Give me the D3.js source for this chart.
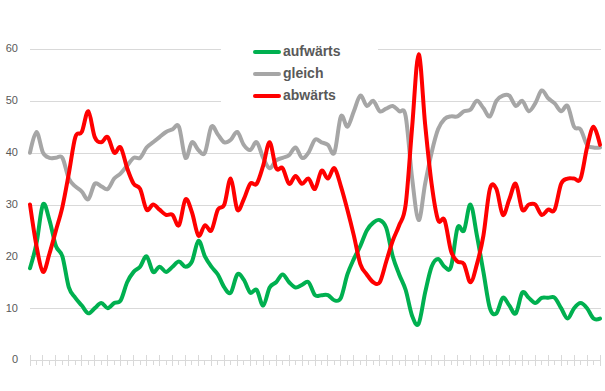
<!DOCTYPE html>
<html><head><meta charset="utf-8">
<script src="https://cdn.jsdelivr.net/npm/d3@7"></script>
<style>body{margin:0;background:#fff}svg{display:block}</style>
</head><body><svg id="c" width="605" height="391"></svg>
<script>
// 89 periods (category axis without labels)
const periods = d3.range(1, 90);
const aufwaerts = [
17.7,22.5,30,27,22,20,14,12,10.5,9,
10,11,10,11,11.5,15,17,18,20,17,
18,17,18,19,18,19,23,20,18,16.5,
14,13,16.5,15.5,13,13.5,10.5,14,15,16.5,
15,14,14.5,15,12.5,12.5,12.5,11.5,12,16.5,
19.5,22,25,26.5,27,25.5,20,16.5,13.5,8.5,
7,13,18,19.5,18,18,25.5,25,30,24,
17,10,9,12,10.5,9,13,12,11,12,
12,12,10,8,10,11,10,8,8];
const gleich = [
40,44,40,39,39,39,35,33.5,32.5,31,
34,33.5,33,35,36,37.5,39,39,41,42,
43,44,44.5,45,39,42,40.5,40,45,43.5,
42,42.5,44,41.5,40.5,42,39,37,38.5,39,
39.5,41,39,40,42.5,42,41.5,40,47,45,
48,51,49,50,48,48.5,49,48,47,35,
27,34,40,44.5,46.5,47,47,48,48.3,50,
48.6,47,50,51,51,49,50,48,49.5,52,
50.5,49.5,48,49,45,44.5,41.5,41,41];
const abwaerts = [
30,22,17,20.5,25,29.5,36,43,44,48,
43,42,43,40,41,37,34,33,29,30,
29,28,28,26,31,28.5,24,26,25,29,
30,35,29,31,34,34,37.5,42,37,37,
34,35.5,34,35,33,36.5,35,37,33.5,29,
24,18.5,16.5,15,15,19,23,26,30,45,
59,45.5,34,27,27,21,19,18.5,15,18.5,
24,33,33,28,31,34,29,30,30,28,
29,29,34,35,35,35,41,45,41.5];
const yTicks = [0,10,20,30,40,50,60];
const seriesNames = ["aufwärts","gleich","abwärts"];
const seriesColors = ["#00B050","#A6A6A6","#FF0000"];
const seriesValues = [aufwaerts, gleich, abwaerts];

const svg = d3.select("#c");
const x = d3.scalePoint().domain(periods).range([30, 600]);
const y = d3.scaleLinear().domain([0, 60]).range([360, 49]);
const crisp = v => Math.round(v) + 0.5;

// gridlines
svg.append("g").selectAll("line").data(yTicks.filter(d => d > 0)).join("line")
  .attr("x1", 30).attr("x2", 601)
  .attr("y1", d => crisp(y(d))).attr("y2", d => crisp(y(d)))
  .attr("stroke", "#d9d9d9").attr("stroke-width", 1);

// y labels
svg.append("g").selectAll("text").data(yTicks).join("text")
  .attr("x", 18).attr("y", d => y(d) + 0.5)
  .attr("text-anchor", "end").attr("dominant-baseline", "middle")
  .attr("font-family", "Liberation Sans, Arial, sans-serif").attr("font-size", 11)
  .attr("fill", "#595959").text(d => d);

// x axis line + ticks
svg.append("line").attr("x1", 30).attr("x2", 601)
  .attr("y1", crisp(y(0))).attr("y2", crisp(y(0)))
  .attr("stroke", "#d9d9d9").attr("stroke-width", 1);
const tg = svg.append("g");
tg.selectAll("line.major").data(periods.filter((d, i) => i % 2 === 0)).join("line")
  .attr("class", "major")
  .attr("x1", d => crisp(x(d) - 0.5)).attr("x2", d => crisp(x(d) - 0.5))
  .attr("y1", 355).attr("y2", 366)
  .attr("stroke", "#d9d9d9").attr("stroke-width", 1);
tg.selectAll("line.minor").data(periods.filter((d, i) => i % 2 === 1)).join("line")
  .attr("class", "minor")
  .attr("x1", d => crisp(x(d) - 0.5)).attr("x2", d => crisp(x(d) - 0.5))
  .attr("y1", 360).attr("y2", 365)
  .attr("stroke", "#d9d9d9").attr("stroke-width", 1);

// legend background (hides gridlines)
svg.append("rect").attr("x", 221).attr("y", 40).attr("width", 157).attr("height", 66).attr("fill", "#fff");

// lines
const line = d3.line().x((d, i) => x(periods[i])).y(d => y(d))
  .curve(d3.curveCardinal.tension(0));
seriesValues.forEach((vals, k) => {
  svg.append("path").datum(vals).attr("d", line)
    .attr("fill", "none").attr("stroke", seriesColors[k])
    .attr("stroke-width", 4).attr("stroke-linejoin", "round").attr("stroke-linecap", "round");
});

// legend
const lg = svg.append("g");
seriesNames.forEach((name, k) => {
  const cy = 52 + k * 22;
  lg.append("line").attr("x1", 255).attr("x2", 279).attr("y1", cy).attr("y2", cy)
    .attr("stroke", seriesColors[k]).attr("stroke-width", 4).attr("stroke-linecap", "round");
  lg.append("text").attr("x", 283).attr("y", cy)
    .attr("dominant-baseline", "middle")
    .attr("font-family", "Liberation Sans, Arial, sans-serif").attr("font-size", 14)
    .attr("font-weight", "bold").attr("fill", "#595959").text(name);
});
</script>
</body></html>
